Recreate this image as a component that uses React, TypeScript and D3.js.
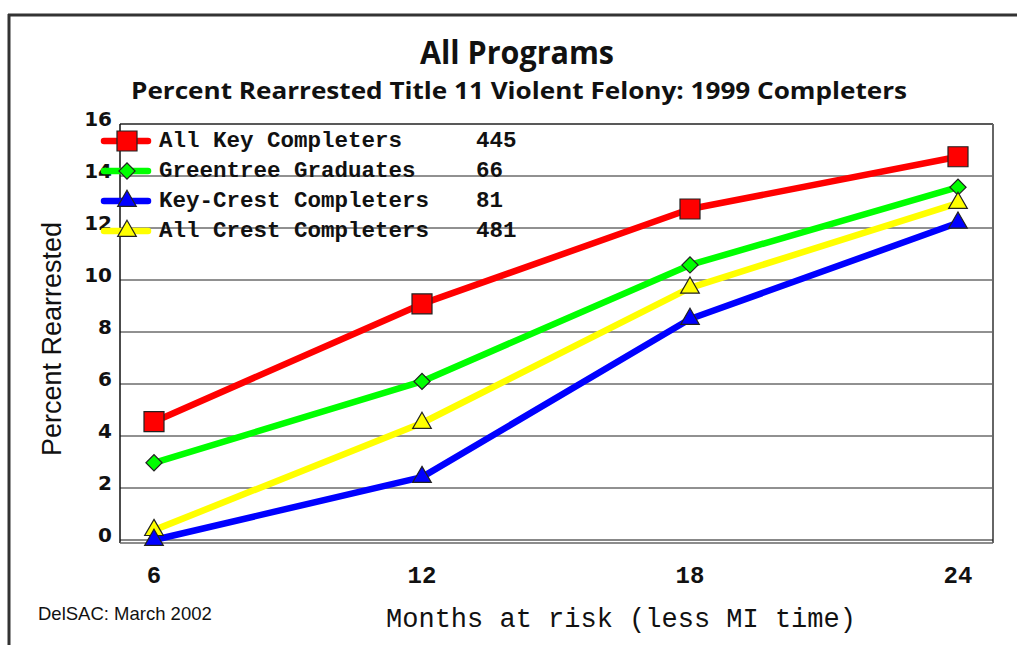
import * as d3 from "d3";

const months = [6, 12, 18, 24];
const allKey = [4.55, 9.08, 12.73, 14.74];
const greentree = [2.97, 6.1, 10.58, 13.57];
const keyCrest = [0.0, 2.42, 8.5, 12.2];
const allCrest = [0.38, 4.5, 9.7, 12.96];

const seriesNames = ["All Key Completers", "Greentree Graduates", "Key-Crest Completers", "All Crest Completers"];
const seriesCounts = ["445", "66", "81", "481"];
const seriesColors = ["#ff0000", "#00ff00", "#0000ff", "#ffff00"];
const seriesMarkers = ["square", "diamond", "triangle", "triangle"];
const yTicks = [0, 2, 4, 6, 8, 10, 12, 14, 16];

const W = 1017;
const H = 645;
const plotLeft = 120;
const plotRight = 993;
const plotTop = 124;
const plotBottom = 540;

function Marker({ type, x, y, color }) {
  let d;
  let rot = 0;
  if (type === "square") {
    d = d3.symbol(d3.symbolSquare, 400)();
  } else if (type === "diamond") {
    d = d3.symbol(d3.symbolSquare, 130)();
    rot = 45;
  } else {
    d = d3.symbol(d3.symbolTriangle, 150)();
  }
  return (
    <path
      d={d}
      transform={`translate(${x},${y}) rotate(${rot})`}
      fill={color}
      stroke="#222"
      strokeWidth={1.2}
    />
  );
}

export default function App() {
  const x = d3.scaleLinear().domain([6, 24]).range([154, 958]);
  const y = d3.scaleLinear().domain([0, 16]).range([plotBottom, plotTop]);
  const series = [allKey, greentree, keyCrest, allCrest];

  const line = d3.line<number>()
    .x((_, i) => x(months[i]))
    .y(d => y(d));

  // draw order: red, green, yellow, blue on top like the original
  const order = [0, 1, 3, 2];

  return (
    <svg width={W} height={H} style={{ position: "absolute", left: 0, top: 0, background: "#fff" }}>
      <rect x={0} y={0} width={W} height={H} fill="#fff" />
      {/* outer frame */}
      <line x1={8} x2={W} y1={15} y2={15} stroke="#333" strokeWidth={3} />
      <line x1={9} x2={9} y1={14} y2={H} stroke="#333" strokeWidth={3} />

      {/* titles */}
      <text x={517} y={64} textAnchor="middle" fontFamily="'Open Sans', sans-serif" fontWeight="bold"
        fontSize={32} textLength={194} lengthAdjust="spacingAndGlyphs" fill="#111">All Programs</text>
      <text x={519} y={99} textAnchor="middle" fontFamily="'Open Sans', sans-serif" fontWeight="bold"
        fontSize={24} textLength={776} lengthAdjust="spacingAndGlyphs" fill="#111">
        Percent Rearrested Title 11 Violent Felony: 1999 Completers
      </text>

      {/* gridlines */}
      {yTicks.filter(t => t > 0 && t < 16).map(t => (
        <line key={t} x1={plotLeft} x2={plotRight} y1={y(t)} y2={y(t)} stroke="#222" strokeWidth={1} />
      ))}
      {/* plot frame */}
      <line x1={plotLeft} x2={plotRight} y1={plotTop} y2={plotTop} stroke="#222" strokeWidth={1.5} />
      <line x1={plotRight} x2={plotRight} y1={plotTop} y2={plotBottom + 3} stroke="#666" strokeWidth={2} />
      <line x1={plotLeft} x2={plotLeft} y1={plotTop} y2={plotBottom + 3} stroke="#111" strokeWidth={1.5} />
      <line x1={plotLeft} x2={plotRight} y1={plotBottom} y2={plotBottom} stroke="#111" strokeWidth={1} />
      <line x1={plotLeft} x2={plotRight} y1={plotBottom + 3} y2={plotBottom + 3} stroke="#666" strokeWidth={1.5} />

      {/* y tick labels */}
      {yTicks.map(t => (
        <text key={t} x={112} y={y(t) + 2} textAnchor="end" fontFamily="'DejaVu Sans', sans-serif"
          fontWeight="bold" fontSize={20} fill="#111">{t}</text>
      ))}

      {/* x tick labels */}
      {months.map(m => (
        <text key={m} x={x(m)} y={583} textAnchor="middle" fontFamily="'Liberation Mono', monospace"
          fontWeight="bold" fontSize={24} fill="#111">{m}</text>
      ))}

      {/* axis titles */}
      <text transform="translate(61,339) rotate(-90)" textAnchor="middle" fontFamily="'Liberation Sans', Arial, sans-serif"
        fontSize={27} fill="#111">Percent Rearrested</text>
      <text x={621} y={627} textAnchor="middle" fontFamily="'Liberation Mono', monospace"
        fontSize={27} fill="#111">Months at risk (less MI time)</text>
      <text x={38} y={620} fontFamily="'Liberation Sans', Arial, sans-serif" fontSize={18.5} fill="#111">DelSAC: March 2002</text>

      {/* series lines */}
      {order.map(k => (
        <path key={k} d={line(series[k])} fill="none" stroke={seriesColors[k]} strokeWidth={6.5} strokeLinejoin="round" />
      ))}
      {order.map(k => series[k].map((v, i) => (
        <Marker key={`${k}-${i}`} type={seriesMarkers[k]} x={x(months[i])} y={y(v)} color={seriesColors[k]} />
      )))}

      {/* legend */}
      {seriesNames.map((name, i) => {
        const ly = 141 + i * 30;
        return (
          <g key={name}>
            <line x1={104} x2={148} y1={ly} y2={ly} stroke={seriesColors[i]} strokeWidth={6.5} strokeLinecap="round" />
            <Marker type={seriesMarkers[i]} x={127} y={ly} color={seriesColors[i]} />
            <text x={159} y={ly + 6} fontFamily="'Liberation Mono', monospace" fontWeight="bold" fontSize={22.5} fill="#111">{name}</text>
            <text x={476} y={ly + 6} fontFamily="'Liberation Mono', monospace" fontWeight="bold" fontSize={22.5} fill="#111">{seriesCounts[i]}</text>
          </g>
        );
      })}
    </svg>
  );
}
